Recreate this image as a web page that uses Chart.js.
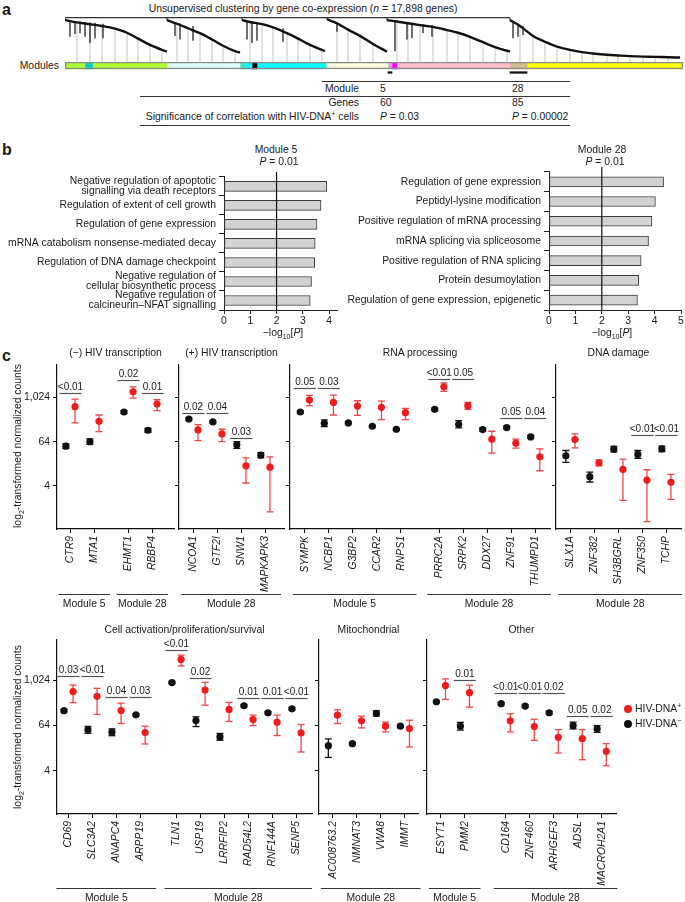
<!DOCTYPE html>
<html>
<head>
<meta charset="utf-8">
<script src="https://cdn.jsdelivr.net/npm/chart.js@4.4.1/dist/chart.umd.min.js"></script>
<style>
body { margin: 0; background: #fff; }
#fig { position: relative; width: 685px; height: 902px; overflow: hidden; font-family: "Liberation Sans", Arial, sans-serif; font-size: 10.4px; color: #1a1a1a; }
#fig canvas { position: absolute; }
.t { position: absolute; white-space: nowrap; line-height: 12px; }
.lbl { font-weight: bold; font-size: 16px; line-height: 16px; }
.hl { position: absolute; height: 0; border-top: 1px solid #333; }
sub, sup { font-size: 7px; line-height: 0; }
.dot { position: absolute; width: 8px; height: 8px; border-radius: 50%; }
</style>
</head>
<body>
<div id="fig"></div>
<script>
// ---- panel a: dendrogram (leaf order units) and module colour bar ----
const dendroClusters = [
  [[0,.93],[12,.88],[25,.84],[37,.80],[50,.74],[62,.65],[73,.52],[85,.38],[97,.27],[102,.23]],
  [[102,.93],[112,.85],[123,.75],[135,.64],[147,.50],[158,.36],[170,.24],[175,.21]],
  [[177,.93],[185,.89],[197,.84],[208,.77],[222,.64],[233,.52],[245,.38],[257,.27],[260,.24]],
  [[262,.95],[272,.86],[283,.72],[295,.58],[308,.40],[322,.23]],
  [[322,.93],[332,.90],[343,.86],[355,.82],[368,.78],[382,.71],[393,.65],[405,.56],[418,.44],[430,.33],[442,.25],[445,.24]],
  [[445,.93],[455,.80],[468,.58],[480,.45],[492,.34],[505,.27],[517,.22],[528,.19],[542,.16],[553,.145],[565,.13],[578,.12],[590,.115],[603,.105],[615,.10]]
];
const dendroBranches = [
  [5,.92,.56],[10,.91,.62],[15,.9,.64],[20,.89,.56],[25,.88,.42],[30,.87,.53],[38,.85,.53],
  [110,.88,.58],[115,.86,.5],[128,.8,.47],
  [182,.9,.5],[187,.89,.42],[192,.88,.47],[218,.75,.45],
  [272,.86,.67],
  [330,.92,.24],[342,.88,.5],[347,.87,.53],[358,.84,.64],[367,.82,.56],
  [448,.9,.53],[453,.86,.56],[458,.8,.6]
];
const moduleColors = ['#ADFF2F','#00CED1','#ADFF2F','#E0FFFF','#40E0D0','#00FFFF','#000000','#00FFFF','#FFFFE0','#DDA0DD','#FF00FF','#FFC0CB','#D2C08C','#FFFF00'];
const moduleWidths = [20, 7.5, 74.5, 73, 5, 7, 5, 69, 62, 4, 5, 113, 17, 156];
const markedModules = [9, 12];

// ---- panel b: GO enrichment, -log10 P ----
const goM5Terms = [
  ['Negative regulation of apoptotic', 'signalling via death receptors'],
  'Regulation of extent of cell growth',
  'Regulation of gene expression',
  'mRNA catabolism nonsense-mediated decay',
  'Regulation of DNA damage checkpoint',
  ['Negative regulation of', 'cellular biosynthetic process'],
  ['Negative regulation of', 'calcineurin\u2013NFAT signalling']
];
const goM5Values = [3.91, 3.69, 3.54, 3.47, 3.45, 3.33, 3.28];
const goM28Terms = [
  'Regulation of gene expression',
  'Peptidyl-lysine modification',
  'Positive regulation of mRNA processing',
  'mRNA splicing via spliceosome',
  'Positive regulation of RNA splicing',
  'Protein desumoylation',
  'Regulation of gene expression, epigenetic'
];
const goM28Values = [4.34, 4.03, 3.90, 3.77, 3.49, 3.40, 3.35];
const pThreshold = 2;

// ---- panel c: log2 normalized counts, mean and error range ----
const geneNames = [
  'CTR9','MTA1','EHMT1','RBBP4',
  'NCOA1','GTF2I','SNW1','MAPKAPK3',
  'SYMPK','NCBP1','G3BP2','CCAR2','RNPS1','PRRC2A','SRPK2','DDX27','ZNF91','THUMPD1',
  'SLX1A','ZNF382','SH3BGRL','ZNF350','TCHP',
  'CD69','SLC3A2','ANAPC4','ARPP19','TLN1','USP19','LRRFIP2','RAD54L2','RNF144A','SENP5',
  'AC008763.2','NMNAT3','VWA8','IMMT',
  'ESYT1','PMM2','CD164','ZNF460','ARHGEF3','ADSL','MACROH2A1'
];
const genePanel = [0,0,0,0, 1,1,1,1, 2,2,2,2,2,2,2,2,2,2, 3,3,3,3,3, 4,4,4,4,4,4,4,4,4,4, 5,5,5,5, 6,6,6,6,6,6,6];
const geneModule = [5,5,28,28, 28,28,28,28, 5,5,5,5,5,28,28,28,28,28, 28,28,28,28,28, 5,5,5,5,28,28,28,28,28,28, 28,28,28,28, 5,5,28,28,28,28,28];
const negMean = [5.59,6.0,8.68,7.03, 8.05,7.78,5.71,4.78, 8.68,7.66,7.69,7.39,7.12,8.92,7.57,7.09,7.27,6.43, 4.72,2.83,5.32,4.86,5.35, 7.31,5.62,5.41,6.95,9.8,6.44,4.99,7.75,7.13,7.48, 4.22,4.4,7.07,5.94, 8.1,5.94,7.93,7.72,7.13,6.0,5.71];
const negLow = [5.4,5.75,8.55,6.85, 7.95,7.7,5.4,4.55, 8.58,7.36,7.6,7.3,7.03,8.8,7.25,6.95,7.15,6.3, 4.12,2.35,5.07,4.5,5.1, 7.2,5.32,5.1,6.85,9.7,5.91,4.7,7.65,7.03,7.38, 3.18,4.3,6.85,5.84, 8.0,5.6,7.83,7.62,7.0,5.7,5.4];
const negHigh = [5.8,6.25,8.8,7.2, 8.15,7.86,6.0,5.0, 8.78,7.96,7.78,7.48,7.2,9.04,7.9,7.25,7.4,6.55, 5.2,3.25,5.57,5.2,5.6, 7.42,5.92,5.7,7.05,9.9,6.77,5.3,7.85,7.23,7.58, 4.82,4.5,7.3,6.04, 8.2,6.28,8.03,7.82,7.26,6.3,6.0];
const posMean = [9.16,7.84,10.51,9.4, 7.06,6.7,3.82,3.69, 9.76,9.55,9.22,9.1,8.62,10.96,9.25,6.22,5.86,4.63, 6.19,4.09,3.49,2.52,2.32, 9.0,8.58,7.33,5.38,11.84,9.14,7.42,6.53,6.3,5.35, 6.92,6.42,5.94,5.73, 9.53,8.9,6.42,5.91,4.96,4.84,3.72];
const posLow = [7.69,6.91,9.94,8.8, 6.1,6.0,2.26,-0.36, 9.25,8.41,8.38,7.99,7.99,10.54,8.92,4.96,5.41,3.37, 5.44,3.82,0.69,-1.23,0.78, 8.02,6.98,6.18,4.37,11.27,7.8,6.36,6.0,5.11,3.66, 6.18,5.79,5.44,4.11, 8.31,7.63,5.44,4.69,3.57,2.98,2.44];
const posHigh = [9.85,8.41,10.96,9.79, 7.54,7.12,4.54,4.63, 10.18,10.21,9.7,9.67,9.01,11.32,9.55,6.94,6.22,5.35, 6.7,4.36,4.42,3.46,3.04, 9.58,9.29,7.98,5.94,12.22,9.82,8.04,6.92,6.92,6.09, 7.39,6.83,6.3,6.47, 10.12,9.56,7.04,6.56,5.64,5.64,4.4];
const pLabel = ['<0.01','','0.02','0.01', '0.02','0.04','0.03','', '0.05','0.03','','','','<0.01','0.05','','0.05','0.04', '','','','<0.01','<0.01', '0.03','<0.01','0.04','0.03','<0.01','0.02','','0.01','0.01','<0.01', '','','','', '','0.01','<0.01','<0.01','0.02','0.05','0.02'];
const pLevel = [10.36,null,11.6,10.36, 8.6,8.6,6.37,null, 10.85,10.85,null,null,null,11.66,11.66,null,8.14,8.14, null,null,null,6.61,6.61, 10.38,10.38,8.52,8.52,12.69,10.24,null,8.46,8.46,8.46, null,null,null,null, null,10.03,8.91,8.91,8.91,6.83,6.83];
const yTicks = [2, 6, 10];

const FONT = '"Liberation Sans", Arial, sans-serif';
const FS = 10.4;
Chart.defaults.font.family = FONT;
Chart.defaults.font.size = FS;
Chart.defaults.color = '#1a1a1a';
Chart.defaults.animation = false;

const fig = document.getElementById('fig');
const RED = '#ee1c1c', RED_ERR = '#f24545', BLACK = '#111';

function addCanvas(left, top, w, h) {
  const c = document.createElement('canvas');
  c.width = w; c.height = h;
  c.style.left = left + 'px'; c.style.top = top + 'px';
  c.style.width = w + 'px'; c.style.height = h + 'px';
  fig.appendChild(c);
  return c;
}
function addText(html, x, y, align, cls) {
  const d = document.createElement('div');
  d.className = 't' + (cls ? ' ' + cls : '');
  d.innerHTML = html;
  d.style.left = x + 'px';
  d.style.top = (y - 6) + 'px';
  if (align === 'center') d.style.transform = 'translateX(-50%)';
  if (align === 'right') d.style.transform = 'translateX(-100%)';
  fig.appendChild(d);
  return d;
}
function addLine(x1, x2, y) {
  const d = document.createElement('div');
  d.className = 'hl';
  d.style.left = x1 + 'px'; d.style.width = (x2 - x1) + 'px'; d.style.top = y + 'px';
  fig.appendChild(d);
}
const baseOpts = {
  responsive: false, events: [], devicePixelRatio: 1,
  plugins: { legend: { display: false }, tooltip: { enabled: false } }
};

// ================= panel a =================
addText('a', 2, 8, null, 'lbl');
addText('Unsupervised clustering by gene co-expression (<i>n</i> = 17,898 genes)', 303, 9, 'center');
addText('Modules', 59, 66, 'right');

(function dendrogram() {
  const datasets = [];
  dendroClusters.forEach(c => datasets.push({
    data: c.map(([x, h]) => ({ x, y: h })), showLine: true, borderColor: BLACK,
    borderWidth: 2.4, pointRadius: 0, cubicInterpolationMode: 'monotone'
  }));
  const topLine = [{ x: 0, y: .985 }, { x: dendroClusters[5][0][0], y: .985 }, { x: 0, y: null }];
  dendroClusters.forEach(c => topLine.push({ x: c[0][0], y: c[0][1] }, { x: c[0][0], y: .985 }, { x: c[0][0], y: null }));
  datasets.push({ data: topLine, showLine: true, borderColor: '#333', borderWidth: 1.2, pointRadius: 0 });
  const br = [];
  dendroBranches.forEach(([x, a, b]) => br.push({ x, y: a }, { x, y: b }, { x, y: null }));
  datasets.push({ data: br, showLine: true, borderColor: '#222', borderWidth: 1.3, pointRadius: 0 });
  const drops = [];
  dendroClusters.forEach(c => c.slice(1, -1).forEach(([x, h]) => drops.push({ x, y: 0 }, { x, y: h }, { x, y: null })));
  datasets.push({ data: drops, showLine: true, borderColor: '#a0a0a0', borderWidth: 0.6, pointRadius: 0 });
  new Chart(addCanvas(65, 13, 618, 49), {
    type: 'scatter', data: { datasets },
    options: Object.assign({}, baseOpts, {
      layout: { padding: { top: 4 }, autoPadding: false },
      scales: {
        x: { type: 'linear', min: 0, max: 618, display: false },
        y: { min: 0, max: 1, display: false }
      }
    })
  });
})();

(function moduleBar() {
  const datasets = [];
  const starts = [], ends = [];
  let s = 0;
  moduleWidths.forEach(w => { starts.push(s); ends.push(s + w); s += w; });
  moduleColors.forEach((col, i) => datasets.push({
    data: [[starts[i], ends[i]], null], backgroundColor: col, borderWidth: 0,
    grouped: false, barPercentage: 1, categoryPercentage: 1
  }));
  markedModules.forEach(i => datasets.push({
    data: [null, [starts[i], ends[i]]], backgroundColor: BLACK, barThickness: 1.6, grouped: false
  }));
  datasets.unshift({
    data: [[0, s], null], backgroundColor: 'rgba(0,0,0,0)', borderColor: '#8a8a8a', borderWidth: 1,
    borderSkipped: false, grouped: false, barPercentage: 1, categoryPercentage: 1
  });
  new Chart(addCanvas(65, 62, 618, 14), {
    type: 'bar', data: { labels: ['colours', 'marks'], datasets },
    options: Object.assign({}, baseOpts, {
      indexAxis: 'y',
      layout: { padding: 0, autoPadding: false },
      scales: {
        x: { type: 'linear', min: 0, max: s, display: false },
        y: { display: false }
      }
    })
  });
})();

// table
addLine(322, 570, 81);
addText('Module', 359, 89, 'right');
addText('5', 380, 89);
addText('28', 512, 89);
addLine(140, 570, 96);
addText('Genes', 359, 103, 'right');
addText('60', 380, 103);
addText('85', 512, 103);
addText('Significance of correlation with HIV-DNA<sup>+</sup> cells', 359, 117, 'right');
addText('<i>P</i> = 0.03', 380, 117);
addText('<i>P</i> = 0.00002', 512, 117);
addLine(140, 570, 125);

// ================= panel b =================
addText('b', 2, 148, null, 'lbl');

function goChart(left, yw, xmax, terms, values, titleX, title) {
  const padTop = 6, areaH = 140, xH = 20, padRight = 4;
  const w = yw + Math.round(xmax * 26.3) + padRight;
  const thresholdLine = {
    id: 'threshold',
    afterDatasetsDraw(chart) {
      const { ctx, chartArea, scales } = chart;
      const x = scales.x.getPixelForValue(pThreshold);
      ctx.save();
      ctx.strokeStyle = '#111'; ctx.lineWidth = 1.2;
      ctx.beginPath(); ctx.moveTo(x, chartArea.top - 5); ctx.lineTo(x, chartArea.bottom); ctx.stroke();
      ctx.restore();
    }
  };
  new Chart(addCanvas(left, 170 - padTop, w, padTop + areaH + xH), {
    type: 'bar',
    data: { labels: terms, datasets: [{
      data: values, backgroundColor: '#d2d2d2', borderColor: '#3a3a3a', borderWidth: 1,
      borderSkipped: false, barThickness: 10
    }] },
    options: Object.assign({}, baseOpts, {
      indexAxis: 'y',
      layout: { padding: { top: padTop, right: padRight }, autoPadding: false },
      scales: {
        y: {
          grid: { drawOnChartArea: false, tickLength: 5, color: '#222' },
          border: { color: '#222', width: 1 },
          ticks: { autoSkip: false, padding: 3, color: '#1a1a1a', font: { size: FS, lineHeight: 0.95 } },
          afterFit: s => { s.width = yw; }
        },
        x: {
          type: 'linear', min: 0, max: xmax,
          afterBuildTicks: s => { s.ticks = [0, 1, 2, 3, 4, 5].filter(v => v <= xmax).map(v => ({ value: v })); },
          grid: { drawOnChartArea: false, tickLength: 4, color: '#222' },
          border: { color: '#222', width: 1 },
          ticks: { padding: 1, color: '#1a1a1a' },
          afterFit: s => { s.height = xH; }
        }
      }
    }),
    plugins: [thresholdLine]
  });
  addText(title, titleX, 150, 'center');
  addText('<i>P</i> = 0.01', titleX + 3, 162, 'center');
}
goChart(0, 224, 4.3, goM5Terms, goM5Values, 276, 'Module 5');
goChart(340, 209, 5, goM28Terms, goM28Values, 602, 'Module 28');
addText('\u2212log<sub>10</sub>[<i>P</i>]', 283, 333, 'center');
addText('\u2212log<sub>10</sub>[<i>P</i>]', 612, 333, 'center');

// ================= panel c =================
addText('c', 2, 354, null, 'lbl');
const PX_PER_GENE = 24;
const rows = [
  { top: 363, bottom: 529, yMin: -1.9, yMax: 13.0, padTop: 8, xH: 82, modOff: 65, titleY: 353 },
  { top: 640, bottom: 814, yMin: -1.82, yMax: 13.56, padTop: 12, xH: 88, modOff: 74, titleY: 630 }
];
const panels = [
  { title: '(\u2212) HIV transcription', row: 0, axisX: 57, right: 174, gap: 0.42, min: -0.56, first: true },
  { title: '(+) HIV transcription', row: 0, axisX: 179, right: 284, gap: 0, min: -0.6 },
  { title: 'RNA processing', row: 0, axisX: 290, right: 550, gap: 0.6, min: -0.62 },
  { title: 'DNA damage', row: 0, axisX: 556, right: 681, gap: 0, min: -0.6 },
  { title: 'Cell activation/proliferation/survival', row: 1, axisX: 57, right: 312, gap: 0.5, min: -0.48, first: true },
  { title: 'Mitochondrial', row: 1, axisX: 319, right: 418, gap: 0, min: -0.58 },
  { title: 'Other', row: 1, axisX: 427, right: 616, gap: 0.7, min: -0.58 }
];

function errorData(pos, idx, lo, hi) {
  const seg = [], caps = [];
  idx.forEach((g, k) => {
    seg.push({ x: pos[k], y: lo[g] }, { x: pos[k], y: hi[g] }, { x: pos[k], y: null });
    caps.push({ x: pos[k], y: lo[g] }, { x: pos[k], y: hi[g] });
  });
  return { seg, caps };
}

panels.forEach((p, pi) => {
  const row = rows[p.row];
  const idx = geneNames.map((_, i) => i).filter(i => genePanel[i] === pi);
  const pos = [];
  let shift = 0;
  idx.forEach((g, k) => {
    if (k > 0 && geneModule[g] !== geneModule[idx[k - 1]]) shift += p.gap;
    pos.push(k + shift);
  });
  const off = 0.19;
  const negX = pos.map(v => v - off), posX = pos.map(v => v + off);
  const xmax = p.min + (p.right - p.axisX) / PX_PER_GENE;
  const yw = p.first ? 50 : 6;
  const padRight = 3;
  const areaH = row.bottom - row.top;
  const canvas = addCanvas(p.axisX - yw, row.top - row.padTop, yw + (p.right - p.axisX) + padRight, row.padTop + areaH + row.xH);

  const negE = errorData(negX, idx, negLow, negHigh);
  const posE = errorData(posX, idx, posLow, posHigh);

  const extras = {
    id: 'extras' + pi,
    afterDatasetsDraw(chart) {
      const { ctx, chartArea, scales: { x, y } } = chart;
      ctx.save();
      ctx.font = '10px ' + FONT;
      ctx.fillStyle = '#1a1a1a';
      ctx.textAlign = 'center';
      ctx.textBaseline = 'bottom';
      idx.forEach((g, k) => {
        if (!pLabel[g]) return;
        const yy = Math.round(y.getPixelForValue(pLevel[g])) + 0.5;
        ctx.strokeStyle = '#555'; ctx.lineWidth = 1.2;
        ctx.beginPath();
        ctx.moveTo(x.getPixelForValue(pos[k] - 0.46), yy);
        ctx.lineTo(x.getPixelForValue(pos[k] + 0.46), yy);
        ctx.stroke();
        ctx.fillText(pLabel[g], x.getPixelForValue(pos[k]), yy - 1);
      });
      // module groups under the gene names
      ctx.font = FS + 'px ' + FONT;
      const ly = Math.round(chartArea.bottom + row.modOff) + 0.5;
      ctx.textBaseline = 'middle';
      let k0 = 0;
      for (let k = 1; k <= idx.length; k++) {
        if (k === idx.length || geneModule[idx[k]] !== geneModule[idx[k0]]) {
          const x1 = x.getPixelForValue(pos[k0] - 0.5), x2 = x.getPixelForValue(pos[k - 1] + 0.65);
          ctx.strokeStyle = '#333'; ctx.lineWidth = 1.2;
          ctx.beginPath(); ctx.moveTo(x1, ly); ctx.lineTo(x2, ly); ctx.stroke();
          ctx.fillText('Module ' + geneModule[idx[k0]], (x1 + x2) / 2, ly + 10);
          k0 = k;
        }
      }
      ctx.restore();
    }
  };

  new Chart(canvas, {
    type: 'scatter',
    data: { datasets: [
      { data: idx.map((g, k) => ({ x: posX[k], y: posMean[g] })), pointRadius: 3.6, pointBackgroundColor: RED, pointBorderWidth: 0, order: 0 },
      { data: idx.map((g, k) => ({ x: negX[k], y: negMean[g] })), pointRadius: 3.6, pointBackgroundColor: BLACK, pointBorderWidth: 0, order: 0 },
      { data: posE.seg, showLine: true, borderColor: RED_ERR, borderWidth: 1.3, pointRadius: 0, order: 1 },
      { data: posE.caps, pointStyle: 'line', pointRadius: 3.5, borderColor: RED_ERR, pointBorderColor: RED_ERR, pointBorderWidth: 1.3, order: 1 },
      { data: negE.seg, showLine: true, borderColor: BLACK, borderWidth: 1.3, pointRadius: 0, order: 1 },
      { data: negE.caps, pointStyle: 'line', pointRadius: 3.5, borderColor: BLACK, pointBorderColor: BLACK, pointBorderWidth: 1.3, order: 1 }
    ] },
    options: Object.assign({}, baseOpts, {
      layout: { padding: { top: row.padTop, right: padRight, left: 0, bottom: 0 }, autoPadding: false },
      scales: {
        x: {
          type: 'linear', min: p.min, max: xmax,
          afterBuildTicks: s => { s.ticks = pos.map(v => ({ value: v })); },
          grid: { drawOnChartArea: false, tickLength: 4, color: '#111' },
          border: { color: '#111', width: 1.2 },
          ticks: {
            autoSkip: false, minRotation: 90, maxRotation: 90, padding: 3, color: '#1a1a1a',
            font: { style: 'italic', size: FS },
            callback: (v, i) => geneNames[idx[i]]
          },
          afterFit: s => { s.height = row.xH; }
        },
        y: {
          min: row.yMin, max: row.yMax,
          afterBuildTicks: s => { s.ticks = yTicks.map(v => ({ value: v })); },
          grid: { drawOnChartArea: false, tickLength: 4, color: '#111' },
          border: { color: '#111', width: 1.2 },
          ticks: { padding: 3, color: '#1a1a1a', callback: v => p.first ? Math.pow(2, v).toLocaleString('en-US') : '' },
          afterFit: s => { s.width = yw; }
        }
      }
    }),
    plugins: [extras]
  });
  addText(p.title, (p.axisX + p.right) / 2, row.titleY, 'center');
});

// y-axis titles
rows.forEach(r => {
  const d = addText('log<sub>2</sub>-transformed normalized counts', 18, (r.top + r.bottom) / 2 + 6, null);
  d.style.top = ((r.top + r.bottom) / 2) + 'px';
  d.style.transform = 'translate(-50%, -50%) rotate(-90deg)';
});

// legend
[['HIV-DNA<sup>+</sup>', RED, 709], ['HIV-DNA<sup>\u2212</sup>', BLACK, 724]].forEach(([txt, col, y]) => {
  const d = document.createElement('div');
  d.className = 'dot';
  d.style.background = col;
  d.style.left = '624px'; d.style.top = (y - 4) + 'px';
  fig.appendChild(d);
  addText(txt, 635, y);
});
</script>
</body>
</html>
